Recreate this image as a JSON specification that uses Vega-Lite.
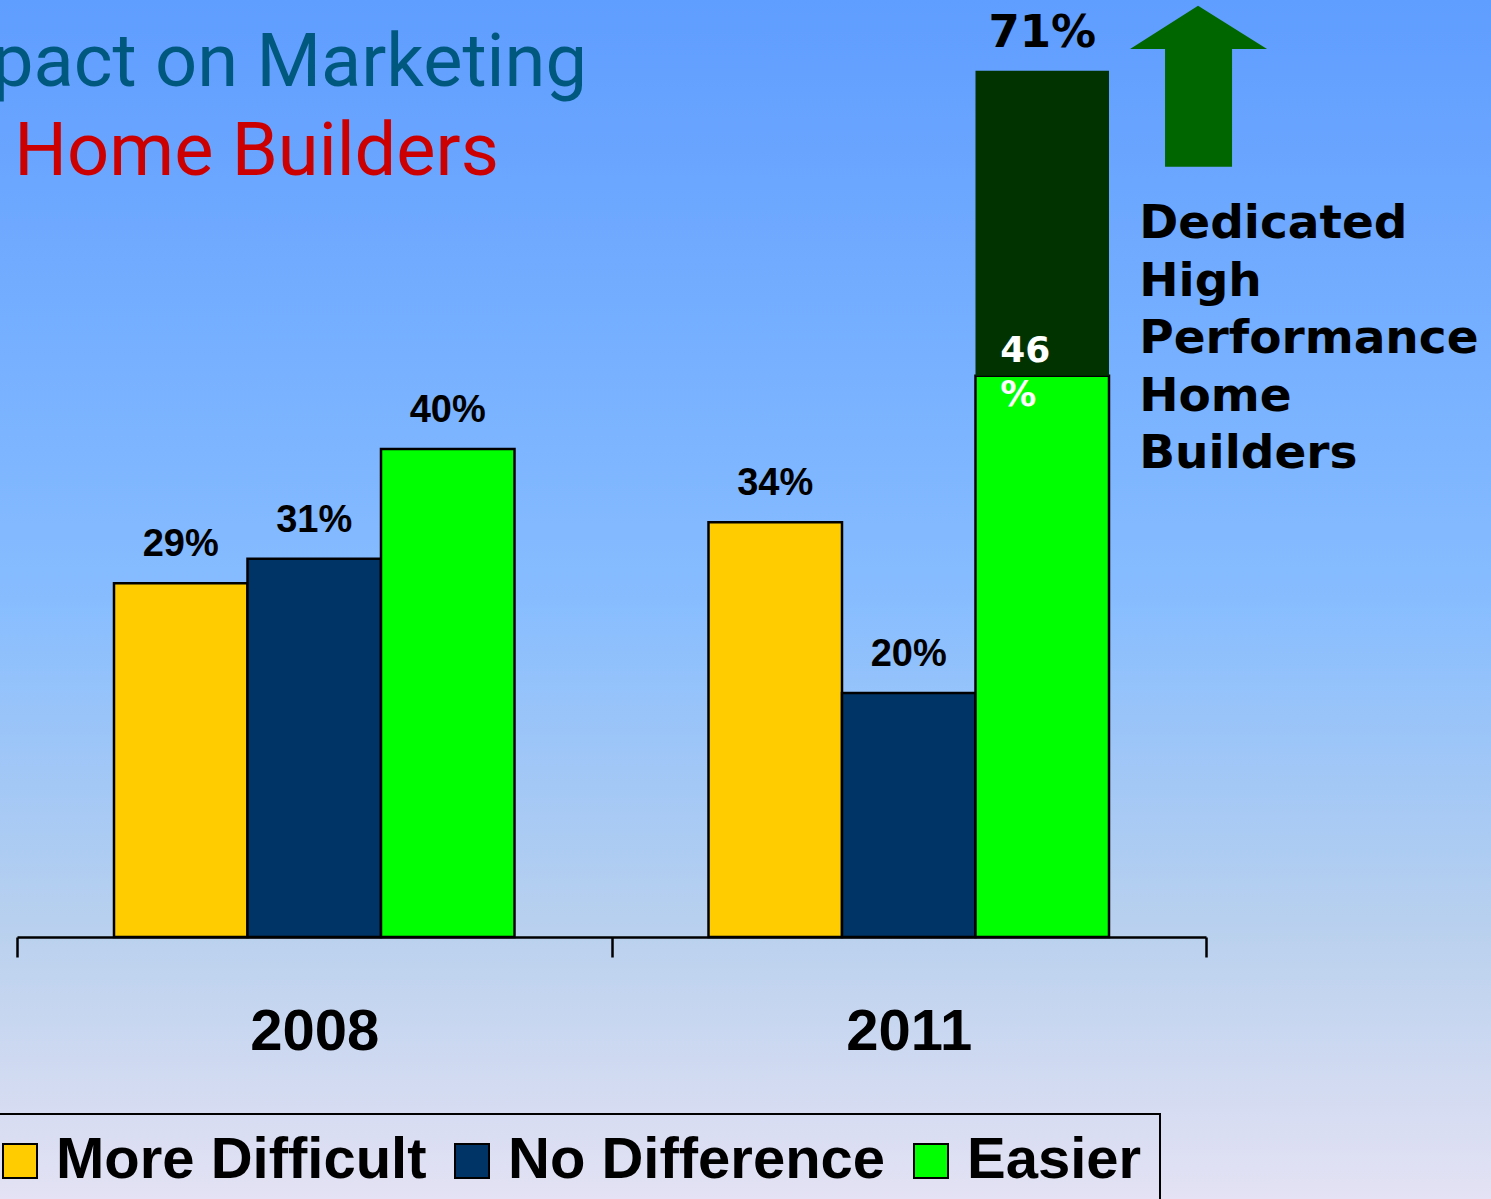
{
  "$schema": "https://vega.github.io/schema/vega-lite/v6.json",
  "width": 1491,
  "height": 1199,
  "padding": 0,
  "autosize": {"type": "none"},
  "background": "#E4E2F4",
  "view": {
    "stroke": null,
    "fill": {
      "gradient": "linear",
      "x1": 0, "y1": 0, "x2": 0, "y2": 1,
      "stops": [
        {"offset": 0, "color": "#5F9DFF"},
        {"offset": 0.5, "color": "#87BDFF"},
        {"offset": 0.78, "color": "#BAD1EE"},
        {"offset": 1, "color": "#E4E2F4"}
      ]
    }
  },
  "data": {
    "values": [
      {"year": "2008", "answer": "More Difficult", "series": "More Difficult", "lo": 0, "pct": 0.29},
      {"year": "2008", "answer": "No Difference", "series": "No Difference", "lo": 0, "pct": 0.31},
      {"year": "2008", "answer": "Easier", "series": "Easier", "lo": 0, "pct": 0.40},
      {"year": "2011", "answer": "More Difficult", "series": "More Difficult", "lo": 0, "pct": 0.34},
      {"year": "2011", "answer": "No Difference", "series": "No Difference", "lo": 0, "pct": 0.20},
      {"year": "2011", "answer": "Easier", "series": "Easier", "lo": 0, "pct": 0.46},
      {"year": "2011", "answer": "Easier", "series": "Dedicated High Performance Home Builders", "lo": 0.46, "pct": 0.71}
    ]
  },
  "config": {
    "axis": {
      "labelFont": "Liberation Sans",
      "labelFontWeight": "bold",
      "labelFontSize": 58,
      "labelColor": "#000000",
      "domainColor": "#000000",
      "tickColor": "#000000"
    },
    "legend": {"strokeWidth": 2}
  },
  "layer": [
    {
      "transform": [{"filter": "datum.series != 'Dedicated High Performance Home Builders'"}],
      "mark": {"type": "bar", "stroke": "#000000", "strokeWidth": 2.5, "clip": false},
      "encoding": {
        "x": {
          "field": "year", "type": "nominal",
          "scale": {"type": "band", "domain": ["2008", "2011"], "range": [17, 1206], "paddingInner": 0, "paddingOuter": 0},
          "axis": {
            "orient": "bottom", "offset": -262, "title": null, "labelAngle": 0,
            "domainWidth": 2.5, "tickWidth": 2.5, "tickSize": 20, "tickBand": "extent",
            "labelBaseline": "alphabetic", "labelPadding": 92, "grid": false
          }
        },
        "xOffset": {
          "field": "answer", "type": "nominal",
          "scale": {"domain": ["More Difficult", "No Difference", "Easier"], "paddingInner": 0, "paddingOuter": 0.7266}
        },
        "y": {
          "field": "pct", "type": "quantitative",
          "scale": {"domain": [0, 0.75], "range": [937, 22], "nice": false, "zero": true},
          "axis": null
        },
        "y2": {"field": "lo"},
        "color": {
          "field": "series", "type": "nominal",
          "scale": {
            "domain": ["More Difficult", "No Difference", "Easier", "Dedicated High Performance Home Builders"],
            "range": ["#FFCC00", "#003366", "#00FF00", "#003300"]
          },
          "legend": {
            "values": ["More Difficult", "No Difference", "Easier"],
            "orient": "none", "legendX": -27, "legendY": 1114,
            "direction": "horizontal", "title": null,
            "symbolType": "square", "symbolSize": 1156,
            "symbolStrokeColor": "#000000", "symbolStrokeWidth": 2, "symbolOpacity": 1,
            "labelFont": "Liberation Sans", "labelFontWeight": "bold", "labelFontSize": 58,
            "labelColor": "#000000", "labelOffset": 7, "labelLimit": 2000,
            "columnPadding": 16, "padding": 18, "strokeColor": "#000000"
          }
        }
      }
    },
    {
      "transform": [{"filter": "datum.series == 'Dedicated High Performance Home Builders'"}],
      "mark": {"type": "bar", "strokeWidth": 0, "clip": false},
      "encoding": {
        "x": {"field": "year", "type": "nominal"},
        "xOffset": {"field": "answer", "type": "nominal"},
        "y": {"field": "pct", "type": "quantitative"},
        "y2": {"field": "lo"},
        "color": {"field": "series", "type": "nominal"}
      }
    },
    {
      "transform": [{"filter": "datum.lo == 0 && !(datum.year == '2011' && datum.answer == 'Easier')"}],
      "mark": {"type": "text", "font": "Liberation Sans", "fontWeight": "bold", "fontSize": 38, "color": "#000000", "baseline": "alphabetic", "align": "center", "dy": -27},
      "encoding": {
        "x": {"field": "year", "type": "nominal"},
        "xOffset": {"field": "answer", "type": "nominal"},
        "y": {"field": "pct", "type": "quantitative"},
        "text": {"field": "pct", "type": "quantitative", "format": ".0%"}
      }
    },
    {
      "transform": [{"filter": "datum.year == '2011' && datum.series == 'Easier'"}],
      "mark": {"type": "text", "font": "DejaVu Sans", "fontWeight": "bold", "fontSize": 36, "color": "#FFFFFF", "baseline": "alphabetic", "align": "left", "dx": -42, "dy": -14, "lineHeight": 44},
      "encoding": {
        "x": {"field": "year", "type": "nominal"},
        "xOffset": {"field": "answer", "type": "nominal"},
        "y": {"field": "pct", "type": "quantitative"},
        "text": {"value": ["46", "%"]}
      }
    },
    {
      "transform": [{"filter": "datum.series == 'Dedicated High Performance Home Builders'"}],
      "mark": {"type": "text", "font": "DejaVu Sans", "fontWeight": "bold", "fontSize": 45, "color": "#000000", "baseline": "alphabetic", "align": "center", "dy": -24},
      "encoding": {
        "x": {"field": "year", "type": "nominal"},
        "xOffset": {"field": "answer", "type": "nominal"},
        "y": {"field": "pct", "type": "quantitative"},
        "text": {"field": "pct", "type": "quantitative", "format": ".0%"}
      }
    },
    {
      "transform": [{"filter": "datum.series == 'Dedicated High Performance Home Builders'"}],
      "mark": {"type": "text", "font": "DejaVu Sans", "fontWeight": "bold", "fontSize": 47, "color": "#000000", "baseline": "alphabetic", "align": "left", "dx": 97, "dy": 167.5, "lineBreak": " ", "lineHeight": 57.5},
      "encoding": {
        "x": {"field": "year", "type": "nominal"},
        "xOffset": {"field": "answer", "type": "nominal"},
        "y": {"field": "pct", "type": "quantitative"},
        "text": {"field": "series", "type": "nominal"}
      }
    },
    {
      "transform": [{"filter": "datum.series == 'Dedicated High Performance Home Builders'"}],
      "mark": {
        "type": "point", "filled": true, "fill": "#006600", "opacity": 1, "strokeWidth": 0, "size": 40000, "clip": false,
        "shape": "M1.558,-0.651 L2.248,-0.218 L1.898,-0.218 L1.898,0.959 L1.228,0.959 L1.228,-0.218 L0.878,-0.218 Z"
      },
      "encoding": {
        "x": {"field": "year", "type": "nominal"},
        "xOffset": {"field": "answer", "type": "nominal"},
        "y": {"field": "pct", "type": "quantitative"}
      }
    },
    {
      "data": {"values": [{"line": "pact on Marketing"}]},
      "mark": {"type": "text", "font": "Roboto", "fontSize": 74, "color": "#00587F", "align": "right", "baseline": "alphabetic", "dx": 272.75, "dy": 64},
      "encoding": {
        "x": {"datum": "2008", "type": "nominal"},
        "y": {"datum": 0.75, "type": "quantitative"},
        "text": {"field": "line", "type": "nominal"}
      }
    },
    {
      "data": {"values": [{"line": "Home Builders"}]},
      "mark": {"type": "text", "font": "Roboto", "fontSize": 74, "color": "#CC0000", "align": "left", "baseline": "alphabetic", "dx": -300, "dy": 153},
      "encoding": {
        "x": {"datum": "2008", "type": "nominal"},
        "y": {"datum": 0.75, "type": "quantitative"},
        "text": {"field": "line", "type": "nominal"}
      }
    }
  ]
}
